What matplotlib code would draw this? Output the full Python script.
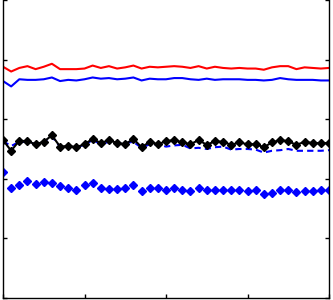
import matplotlib
matplotlib.use('Agg')
import matplotlib.pyplot as plt

# x positions: 41 samples
x = list(range(41))

red_line = [3.88, 3.80, 3.86, 3.89, 3.84, 3.88, 3.93, 3.84, 3.84, 3.84, 3.85, 3.90, 3.86, 3.89,
            3.85, 3.87, 3.90, 3.85, 3.88, 3.87, 3.88, 3.89, 3.88, 3.86, 3.89, 3.85, 3.88,
            3.86, 3.85, 3.86, 3.85, 3.85, 3.83, 3.87, 3.89, 3.89, 3.84, 3.87, 3.86, 3.85, 3.86]

blue_line = [3.64, 3.55, 3.67, 3.66, 3.66, 3.67, 3.70, 3.64, 3.66, 3.65, 3.67, 3.70, 3.68, 3.69,
             3.67, 3.68, 3.70, 3.65, 3.68, 3.67, 3.67, 3.69, 3.69, 3.67, 3.66, 3.68, 3.66,
             3.67, 3.67, 3.67, 3.66, 3.66, 3.65, 3.66, 3.69, 3.67, 3.66, 3.66, 3.66, 3.65, 3.65]

black_line = [2.65, 2.47, 2.64, 2.63, 2.58, 2.62, 2.73, 2.54, 2.55, 2.53, 2.58, 2.67, 2.60, 2.65,
              2.60, 2.58, 2.67, 2.53, 2.62, 2.58, 2.63, 2.65, 2.61, 2.58, 2.65, 2.57, 2.63,
              2.62, 2.57, 2.61, 2.58, 2.58, 2.53, 2.61, 2.65, 2.63, 2.57, 2.62, 2.60, 2.60, 2.60]

blue_dashed = [2.63, 2.55, 2.62, 2.62, 2.58, 2.62, 2.71, 2.54, 2.54, 2.53, 2.57, 2.65, 2.58, 2.62,
               2.58, 2.60, 2.62, 2.52, 2.58, 2.58, 2.54, 2.56, 2.57, 2.51, 2.52, 2.50, 2.53,
               2.54, 2.49, 2.50, 2.50, 2.49, 2.44, 2.47, 2.48, 2.50, 2.47, 2.47, 2.47, 2.47, 2.48]

blue_points = [2.11, 1.85, 1.89, 1.96, 1.92, 1.94, 1.93, 1.88, 1.85, 1.82, 1.89, 1.93, 1.84, 1.83,
               1.83, 1.84, 1.90, 1.80, 1.84, 1.85, 1.82, 1.85, 1.82, 1.80, 1.85, 1.81, 1.81,
               1.81, 1.81, 1.82, 1.80, 1.81, 1.75, 1.77, 1.81, 1.82, 1.78, 1.79, 1.80, 1.81, 1.82]

fig = plt.figure(figsize=(3.33, 3.0), dpi=100)
# top edge of the box sits just above the picture, as in the reference
ax = fig.add_axes([3 / 333, 2 / 300, 326 / 333, 303 / 300])

ax.plot(x, red_line, color='#ff0000', lw=1.5)
ax.plot(x, blue_line, color='#0000ff', lw=1.5)
ax.plot(x, blue_dashed, color='#0000ff', lw=1.5, ls=(0, (3, 2)))
ax.plot(x, black_line, color='black', lw=1.5, marker='D', markersize=3.8)
ax.plot(x, blue_points, color='#0000ff', lw=0, marker='D', markersize=3.8)

ax.set_xlim(0, 40)
ax.set_ylim(0, 5 * 303 / 298)
ax.set_xticks([0, 10, 20, 30, 40])
ax.set_yticks([0, 1, 2, 3, 4, 5])
ax.tick_params(direction='in', length=3, width=1, top=True, right=True,
               labelbottom=False, labelleft=False)
for s in ax.spines.values():
    s.set_linewidth(1.0)

fig.savefig('out.png', dpi=100)
